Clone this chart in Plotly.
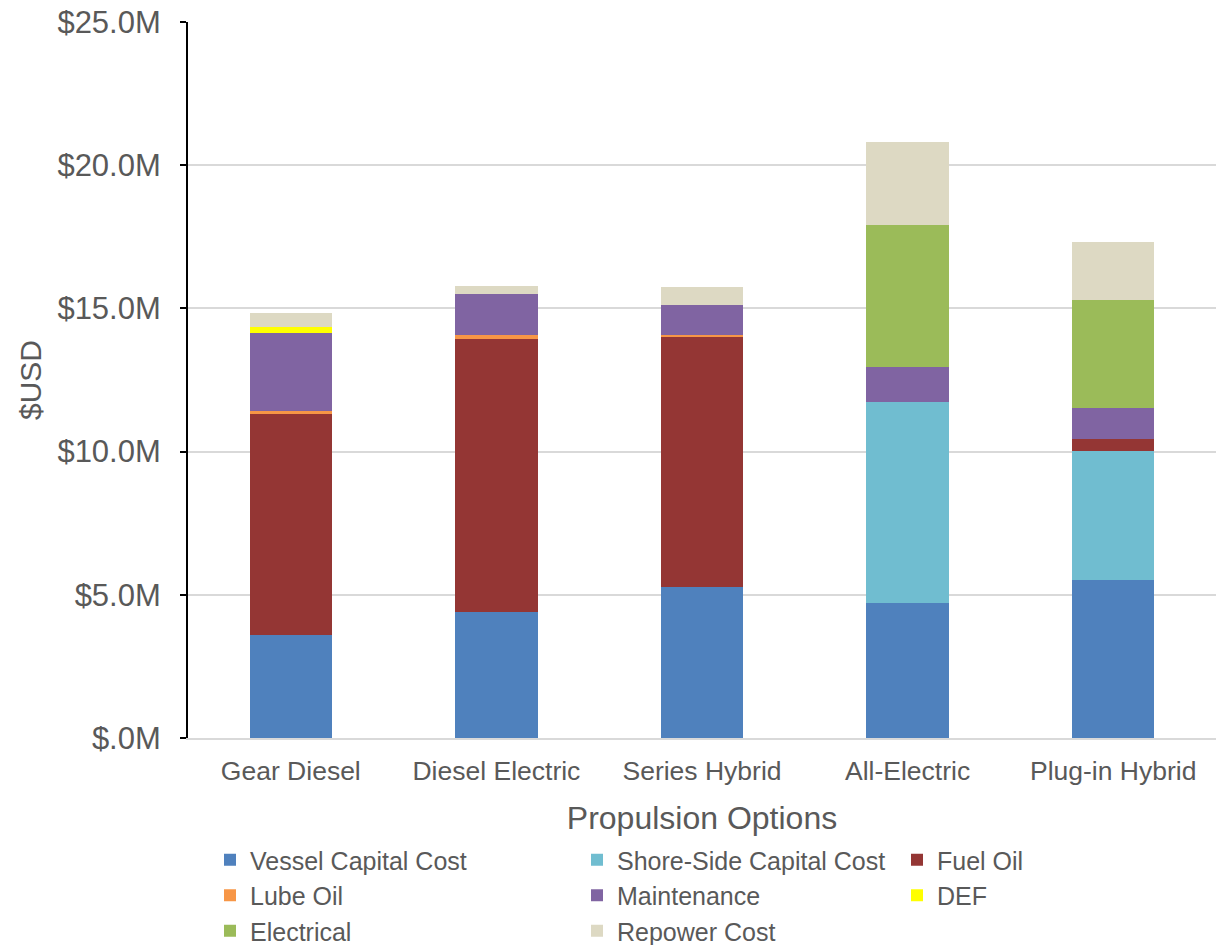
import plotly.graph_objects as go

# Propulsion options (x categories)
options = ["Gear Diesel", "Diesel Electric", "Series Hybrid", "All-Electric", "Plug-in Hybrid"]

# Lifecycle cost components, $ millions
vessel_capital = [3.59, 4.39, 5.28, 4.70, 5.51]
shore_capital = [0.00, 0.00, 0.00, 7.04, 4.51]
fuel_oil = [7.71, 9.55, 8.71, 0.00, 0.41]
lube_oil = [0.13, 0.13, 0.09, 0.00, 0.00]
maintenance = [2.72, 1.43, 1.03, 1.22, 1.10]
def_fluid = [0.19, 0.00, 0.00, 0.00, 0.00]
electrical = [0.00, 0.00, 0.00, 4.95, 3.75]
repower = [0.49, 0.28, 0.63, 2.91, 2.05]

y_tick_vals = [0, 5, 10, 15, 20, 25]
y_tick_text = ["$.0M", "$5.0M", "$10.0M", "$15.0M", "$20.0M", "$25.0M"]

series = [
    ("Vessel Capital Cost", vessel_capital, "#4F81BD", "legend"),
    ("Shore-Side Capital Cost", shore_capital, "#70BDD0", "legend2"),
    ("Fuel Oil", fuel_oil, "#943634", "legend3"),
    ("Lube Oil", lube_oil, "#F79646", "legend"),
    ("Maintenance", maintenance, "#8064A2", "legend2"),
    ("DEF", def_fluid, "#FFFF00", "legend3"),
    ("Electrical", electrical, "#9BBB59", "legend"),
    ("Repower Cost", repower, "#DDD9C3", "legend2"),
]

FONT = "Liberation Sans, Arial, sans-serif"
GREY = "#595959"

fig = go.Figure()
for name, vals, color, leg in series:
    fig.add_trace(go.Bar(
        name=name, x=options, y=vals,
        marker=dict(color=color, line=dict(width=0)),
        legend=leg, legendgroup=name,
    ))

# plot area spans pixels x 188..1216, y 22..738
L, R, T, B = 188, 0, 22, 207
WIDTH, HEIGHT = 1216, 945

legend_common = dict(
    orientation="v", xanchor="left", yanchor="top",
    xref="container", yref="container",
    font=dict(family=FONT, size=25, color=GREY),
    traceorder="grouped", tracegroupgap=0,
    bgcolor="rgba(0,0,0,0)", itemclick=False,
)
legend_top = 1 - 837 / HEIGHT

fig.update_layout(
    width=WIDTH, height=HEIGHT,
    margin=dict(l=L, r=R, t=T, b=B, autoexpand=False),
    paper_bgcolor="white", plot_bgcolor="white",
    barmode="stack", bargap=0.6,
    font=dict(family=FONT, color=GREY),
    legend=dict(x=210 / WIDTH, y=legend_top, **legend_common),
    legend2=dict(x=577 / WIDTH, y=legend_top, **legend_common),
    legend3=dict(x=897 / WIDTH, y=legend_top, **legend_common),
    xaxis=dict(
        showline=True, linecolor="#D9D9D9", linewidth=2,
        ticks="", ticklabelstandoff=8,
        tickfont=dict(family=FONT, size=26.5, color=GREY),
        title=dict(text="Propulsion Options", font=dict(family=FONT, size=32, color=GREY), standoff=22),
    ),
    yaxis=dict(
        range=[0, 25], tickvals=y_tick_vals, ticktext=y_tick_text,
        showline=True, linecolor="black", linewidth=2,
        ticks="outside", ticklen=6, tickwidth=2, tickcolor="black",
        ticklabelstandoff=13,
        showgrid=True, gridcolor="#D9D9D9", gridwidth=2,
        zeroline=False,
        tickfont=dict(family=FONT, size=31, color=GREY),
    ),
    annotations=[dict(
        text="$USD", textangle=-90, showarrow=False,
        xref="paper", yref="paper", x=-(188 - 30) / (WIDTH - L - R), y=0.5,
        xanchor="center", yanchor="middle",
        font=dict(family=FONT, size=30, color=GREY),
    )],
)

fig.write_html("out.html")
